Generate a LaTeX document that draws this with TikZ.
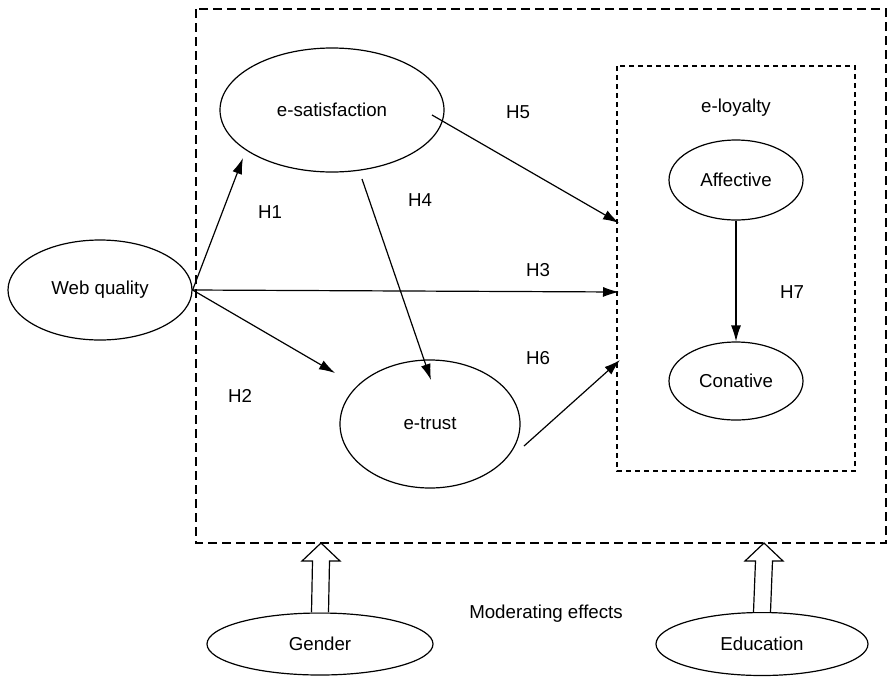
\documentclass[tikz,border=0pt]{standalone}
\usepackage{fontspec}
\setmainfont{Liberation Sans}
\usetikzlibrary{shapes.geometric,arrows.meta,calc}
\begin{document}
\begin{tikzpicture}[x=1pt,y=-1pt,
  ell/.style={draw,ellipse,line width=1.2pt,inner sep=0pt,font=\fontsize{18.7}{22}\selectfont},
  lbl/.style={font=\fontsize{18.7}{22}\selectfont,inner sep=0pt},
  conn/.style={line width=1.2pt,-{Latex[length=16pt,width=10pt]}},
  hollow/.style={draw,line width=1.2pt,fill=white}]
\useasboundingbox (0,0) rectangle (888,678);
% boxes
\draw[line width=1.2pt,dash pattern=on 9pt off 5pt] (196,9) rectangle (886,543);
\draw[line width=1.2pt,dash pattern=on 5pt off 4pt] (617,66) rectangle (855,471);
% nodes
\node[ell,minimum width=184pt,minimum height=100pt] (wq) at (100,290) {Web quality};
\node[ell,minimum width=224pt,minimum height=124pt] (es) at (332,110) {e-satisfaction};
\node[ell,minimum width=180pt,minimum height=128pt] (et) at (430,424) {e-trust};
\node[ell,minimum width=134pt,minimum height=80pt] (af) at (736,180) {Affective};
\node[ell,minimum width=134pt,minimum height=78pt] (co) at (736,381) {Conative};
\node[ell,minimum width=226pt,minimum height=62pt] (ge) at (320,644) {Gender};
\node[ell,minimum width=212pt,minimum height=63pt] (ed) at (762,644) {Education};
% coordinates on box
\coordinate (wqr) at (wq.east);
\coordinate (t5) at (619,223);
\coordinate (t3) at (619,292);
\coordinate (t6) at (620,360);
\coordinate (s1) at (243,158);
\coordinate (s2) at (335,373);
\coordinate (e4a) at (362,179);
\coordinate (e4b) at (431,380);
\coordinate (e5a) at (432,115);
\coordinate (e6a) at (524,446);
% connectors
\draw[conn] (wqr) -- (s1);
\draw[conn] (wqr) -- (t3);
\draw[conn] (wqr) -- (s2);
\draw[conn] (e4a) -- (e4b);
\draw[conn] (e5a) -- (t5);
\draw[conn] (e6a) -- (t6);
\draw[conn] (af.south) -- (co.north);
% hollow arrows
\coordinate (gb) at (321,543);
\coordinate (eb) at (764,543);
\draw[hollow] ($(ge.north)+(-8.5,0)$) -- ($(gb)+(-8.5,18)$) -- ($(gb)+(-19,18)$) -- (gb) -- ($(gb)+(19,18)$) -- ($(gb)+(8.5,18)$) -- ($(ge.north)+(8.5,0)$);
\draw[hollow] ($(ed.north)+(-8.5,0)$) -- ($(eb)+(-8.5,18)$) -- ($(eb)+(-19,18)$) -- (eb) -- ($(eb)+(19,18)$) -- ($(eb)+(8.5,18)$) -- ($(ed.north)+(8.5,0)$);
% labels
\node[lbl] (h5) at (518,112) {H5};
\node[lbl] (h1) at (270,212) {H1};
\node[lbl] (h4) at (420,200) {H4};
\node[lbl] (h3) at (538,270) {H3};
\node[lbl] (h7) at (792,292) {H7};
\node[lbl] (h6) at (538,358) {H6};
\node[lbl] (h2) at (240,396) {H2};
\node[lbl] (el) at (736,108) {e-loyalty};
\node[lbl] (me) at (546,614) {Moderating effects};
\end{tikzpicture}
\end{document}
